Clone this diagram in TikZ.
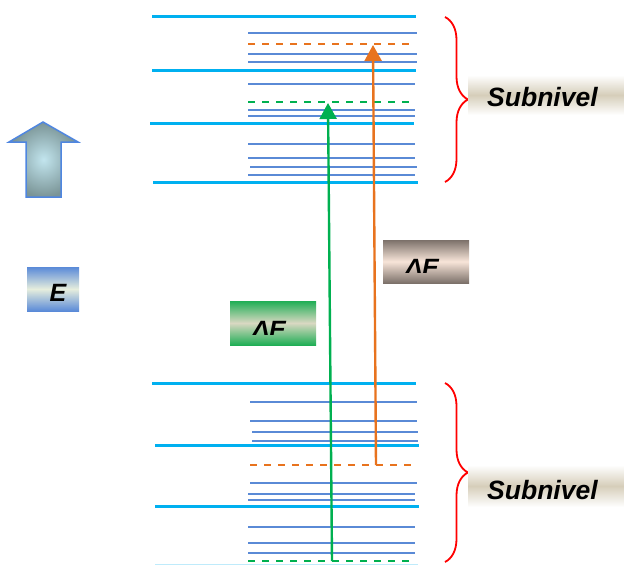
\documentclass[tikz,border=0pt]{standalone}
\usepackage{fontspec}
\setmainfont{Liberation Sans}
\usetikzlibrary{arrows.meta,decorations.pathreplacing}
\definecolor{lvl}{HTML}{00B0F0}
\definecolor{sub}{HTML}{5A8AD6}
\definecolor{org}{HTML}{E8731E}
\definecolor{grn}{HTML}{00B050}
\definecolor{beige}{HTML}{D6CEBA}
\definecolor{gtop}{HTML}{1FAE55}
\definecolor{gmid}{HTML}{D9D8C2}
\definecolor{btop}{HTML}{7C716A}
\definecolor{bmid}{HTML}{F8E5D9}
\definecolor{etop}{HTML}{5A8AD8}
\definecolor{emid}{HTML}{E6EEDD}
\definecolor{arin}{HTML}{C2E5EE}
\definecolor{arout}{HTML}{7A9496}
\definecolor{arbd}{HTML}{4F86E0}
\begin{document}
\begin{tikzpicture}[x=1pt,y=-1pt,
  level/.style={draw=lvl,line width=3pt},
  sublevel/.style={draw=sub,line width=2pt},
  dashorg/.style={draw=org,line width=2pt,dash pattern=on 7pt off 7pt},
  dashgrn/.style={draw=grn,line width=2pt,dash pattern=on 7pt off 7pt},
  transarrow/.style={line width=2.4pt,-{Triangle[width=17pt,length=16pt]}},
  bracestyle/.style={draw=red,line width=1.8pt,decorate,decoration={brace,amplitude=23pt}},
  lbl/.style={font=\fontsize{25}{25}\selectfont\bfseries\itshape,inner sep=0pt,text=black},
  sublbl/.style={font=\fontsize{26.5}{26.5}\selectfont\bfseries\itshape,inner sep=0pt,text=black},
  box/.style={rectangle,inner sep=0pt,draw=none}
]
\useasboundingbox (0,0) rectangle (624,565);

% ---- upper levels ----
\draw[level] (152,16) -- (416,16);
\draw[sublevel] (248,33) -- (417,33);
\draw[dashorg] (248,44) -- (410,44);
\draw[sublevel] (248,54) -- (417,54);
\draw[sublevel] (248,62) -- (417,62);
\draw[level] (152,70) -- (416,70);
\draw[sublevel] (248,84) -- (415,84);
\draw[dashgrn] (248,102) -- (410,102);
\draw[sublevel] (248,110) -- (415,110);
\draw[sublevel] (248,116) -- (415,116);
\draw[level] (150,123) -- (414,123);
\draw[sublevel] (248,144) -- (415,144);
\draw[sublevel] (248,158) -- (415,158);
\draw[sublevel] (250,167) -- (417,167);
\draw[sublevel] (248,175) -- (415,175);
\draw[level] (153,182) -- (418,182);

% ---- lower levels ----
\draw[level] (152,383) -- (416,383);
\draw[sublevel] (250,402) -- (417,402);
\draw[sublevel] (250,421) -- (417,421);
\draw[sublevel] (252,432) -- (418,432);
\draw[sublevel] (252,441) -- (418,441);
\draw[level] (155,445) -- (419,445);
\draw[dashorg] (250,465) -- (412,465);
\draw[sublevel] (250,483) -- (417,483);
\draw[sublevel] (248,494) -- (415,494);
\draw[sublevel] (248,500) -- (415,500);
\draw[level] (155,506) -- (419,506);
\draw[sublevel] (248,527) -- (415,527);
\draw[sublevel] (248,543) -- (415,543);
\draw[sublevel] (248,553) -- (415,553);
\draw[dashgrn] (248,561) -- (410,561);
\draw[level,draw opacity=0.25] (155,565) -- (418,565);

% ---- transitions ----
\coordinate (g0) at (332,561);
\coordinate (g1) at (328,103);
\coordinate (o0) at (376,465);
\coordinate (o1) at (373,45);
\draw[transarrow,draw=grn,fill=grn] (g0) -- (g1);
\draw[transarrow,draw=org,fill=org] (o0) -- (o1);

% ---- braces ----
\coordinate (b1a) at (445,17);
\coordinate (b1b) at (445,182);
\coordinate (b2a) at (445,383);
\coordinate (b2b) at (445,562);
\draw[bracestyle] (b1a) -- (b1b);
\draw[bracestyle] (b2a) -- (b2b);

% ---- Subnivel labels ----
\node[box,top color=white,bottom color=white,middle color=beige,minimum width=156pt,minimum height=40pt] (s1) at (546,95) {};
\node[sublbl,anchor=base west] (s1t) at (487,106) {Subnivel};
\node[box,top color=white,bottom color=white,middle color=beige,minimum width=156pt,minimum height=42pt] (s2) at (546,486) {};
\node[sublbl,anchor=base west] (s2t) at (487,499) {Subnivel};

% ---- Delta E labels ----
\node[box,top color=gtop,bottom color=gtop,middle color=gmid,minimum width=86pt,minimum height=44pt] (d1) at (273,323) {};
\begin{scope}
  \clip (230,301) rectangle (316,334);
  \node[lbl,anchor=base] (d1t) at (269,338) {ΔE};
\end{scope}
\node[box,top color=btop,bottom color=btop,middle color=bmid,minimum width=86pt,minimum height=43pt] (d2) at (426,261.5) {};
\begin{scope}
  \clip (383,240) rectangle (469,272);
  \node[lbl,anchor=base] (d2t) at (422,276) {ΔE};
\end{scope}

% ---- E label and arrow ----
\node[box,top color=etop,bottom color=etop,middle color=emid,minimum width=52pt,minimum height=44pt] (eb) at (53,289) {};
\node[lbl,anchor=base] (et) at (58,301) {E};
\shadedraw[draw=arbd,line width=1.5pt,inner color=arin,outer color=arout,line join=miter]
  (43,122) -- (78,142) -- (61,142) -- (61,197) -- (26,197) -- (26,142) -- (9,142) -- cycle;
\end{tikzpicture}
\end{document}
